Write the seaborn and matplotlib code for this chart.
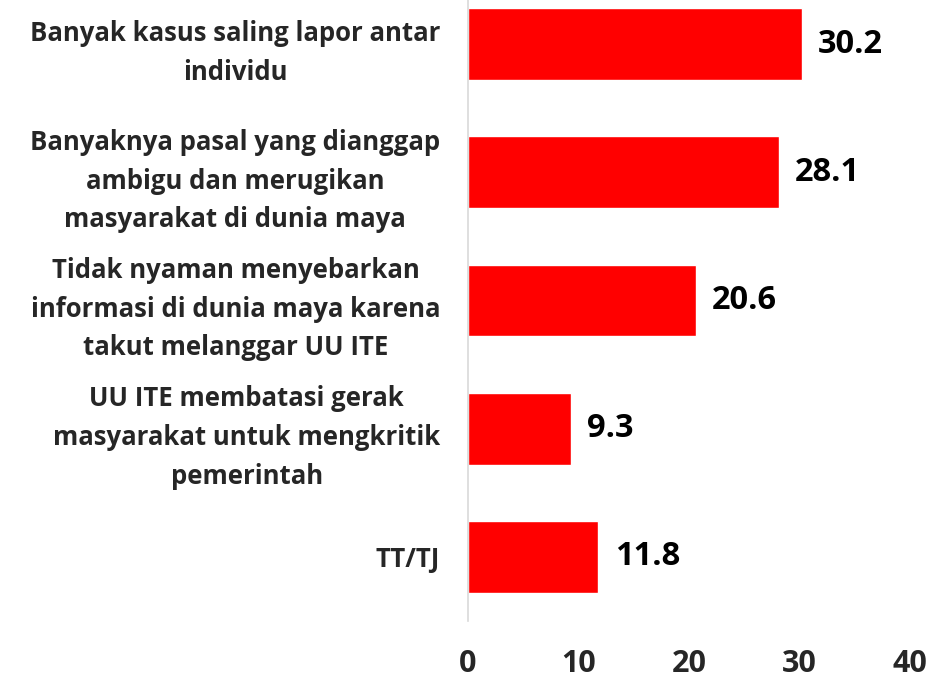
import numpy as np
import pandas as pd
import matplotlib.pyplot as plt
import seaborn as sns

# Data
categories = [
    "Banyak kasus saling lapor antar\nindividu",
    "Banyaknya pasal yang dianggap\nambigu dan merugikan\nmasyarakat di dunia maya",
    "Tidak nyaman menyebarkan\ninformasi di dunia maya karena\ntakut melanggar UU ITE",
    "UU ITE membatasi gerak\nmasyarakat untuk mengkritik\npemerintah",
    "TT/TJ",
]
values = [30.2, 28.1, 20.6, 9.3, 11.8]
x_ticks = [0, 10, 20, 30, 40]

df = pd.DataFrame({"kategori": categories, "persen": values})

sns.set_style("white")
plt.rcParams["font.family"] = ["Open Sans", "DejaVu Sans"]

fig = plt.figure(figsize=(9.51, 6.85), dpi=100)
ax = fig.add_axes([468 / 951, 1 - 621 / 685, (910 - 468) / 951, 621 / 685])

sns.barplot(data=df, x="persen", y="kategori", orient="h", color="#ff0000",
            saturation=1, width=0.56, ax=ax)

# value labels next to each bar
for i, v in enumerate(values):
    ax.text(v + 1.5, i, f"{v:.1f}", va="center", ha="left",
            fontsize=23.5, fontweight="bold", color="black")

ax.set_xlim(0, 40)
ax.set_ylim(4.5, -0.344)
ax.set_xticks(x_ticks)
ax.set_xticklabels([str(t) for t in x_ticks], fontsize=22, fontweight="bold")
ax.set_xlabel("")
ax.set_ylabel("")
ax.tick_params(axis="x", length=0, pad=20)
ax.tick_params(axis="y", length=0, pad=20)
for lab in ax.get_yticklabels():
    lab.set_fontsize(18.5)
    lab.set_fontweight("bold")
    lab.set_multialignment("center")
    lab.set_linespacing(1.55)

for side in ["top", "right", "bottom"]:
    ax.spines[side].set_visible(False)
ax.spines["left"].set_color("#d9d9d9")
ax.spines["left"].set_linewidth(1.2)

fig.savefig("out.png", dpi=100)
